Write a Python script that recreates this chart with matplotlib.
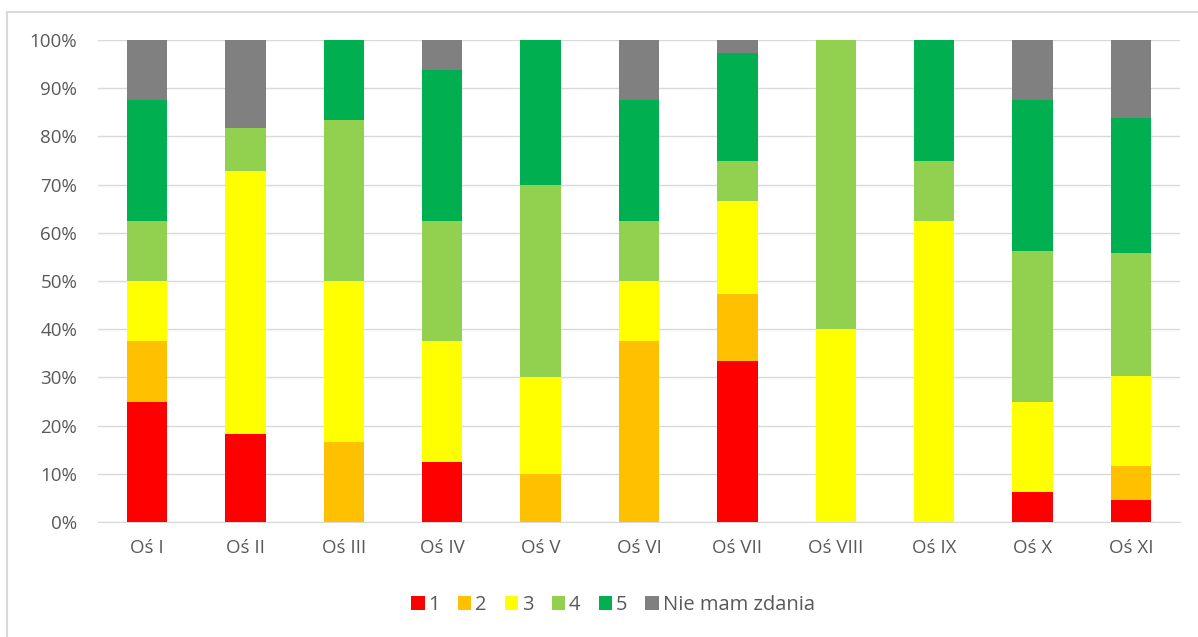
import numpy as np
import matplotlib.pyplot as plt
from matplotlib.lines import Line2D
from matplotlib.ticker import PercentFormatter

plt.rcParams['font.family'] = ['Open Sans', 'DejaVu Sans']

categories = ['Oś I', 'Oś II', 'Oś III', 'Oś IV', 'Oś V', 'Oś VI',
              'Oś VII', 'Oś VIII', 'Oś IX', 'Oś X', 'Oś XI']
labels = ['1', '2', '3', '4', '5', 'Nie mam zdania']
colors = ['#ff0000', '#ffc000', '#ffff00', '#92d050', '#00b050', '#808080']

# shares in percent, one list per answer
s1 = [25.0, 18.18, 0, 12.5, 0, 0, 33.33, 0, 0, 6.25, 4.65]
s2 = [12.5, 0, 16.67, 0, 10, 37.5, 13.89, 0, 0, 0, 6.98]
s3 = [12.5, 54.55, 33.33, 25.0, 20, 12.5, 19.44, 40, 62.5, 18.75, 18.60]
s4 = [12.5, 9.09, 33.33, 25.0, 40, 12.5, 8.33, 60, 12.5, 31.25, 25.58]
s5 = [25.0, 0, 16.67, 31.25, 30, 25.0, 22.22, 0, 25.0, 31.25, 27.91]
s6 = [12.5, 18.18, 0, 6.25, 0, 12.5, 2.78, 0, 0, 12.5, 16.28]
series = [s1, s2, s3, s4, s5, s6]

fig = plt.figure(figsize=(11.98, 6.37), dpi=100)
ax = fig.add_axes([98 / 1198, 1 - 522 / 637, 1082 / 1198, 482 / 637])

x = np.arange(len(categories))
bottom = np.zeros(len(categories))
for vals, lab, col in zip(series, labels, colors):
    vals = np.array(vals)
    ax.bar(x, vals, 0.41, bottom=bottom, color=col, label=lab,
           edgecolor='none', zorder=3)
    bottom += vals

ax.set_xlim(-0.5, len(categories) - 0.5)
ax.set_ylim(0, 100)
ax.set_yticks(np.arange(0, 101, 10))
ax.yaxis.set_major_formatter(PercentFormatter(decimals=0))
ax.set_xticks(x)
ax.set_xticklabels(categories)
ax.grid(axis='y', color='#d9d9d9', linewidth=1, zorder=0)
for sp in ['top', 'right', 'left']:
    ax.spines[sp].set_visible(False)
ax.spines['bottom'].set_color('#d9d9d9')
ax.tick_params(axis='both', length=0, colors='#595959', labelsize=13.5)
ax.tick_params(axis='x', pad=12)
ax.tick_params(axis='y', pad=15)

leg = ax.legend(loc='center', bbox_to_anchor=(613 / 1198, 1 - 605 / 637),
                bbox_transform=fig.transFigure, ncol=6, frameon=False,
                fontsize=14.5, handlelength=0.65, handleheight=0.65,
                handletextpad=0.2, columnspacing=0.9)
for t in leg.get_texts():
    t.set_color('#595959')

fig.add_artist(Line2D([7 / 1198, 7 / 1198], [0, 1 - 12 / 637], color='#d9d9d9', lw=1.5))
fig.add_artist(Line2D([7 / 1198, 1], [1 - 12 / 637, 1 - 12 / 637], color='#d9d9d9', lw=1.5))

fig.savefig('out.png', dpi=100)
